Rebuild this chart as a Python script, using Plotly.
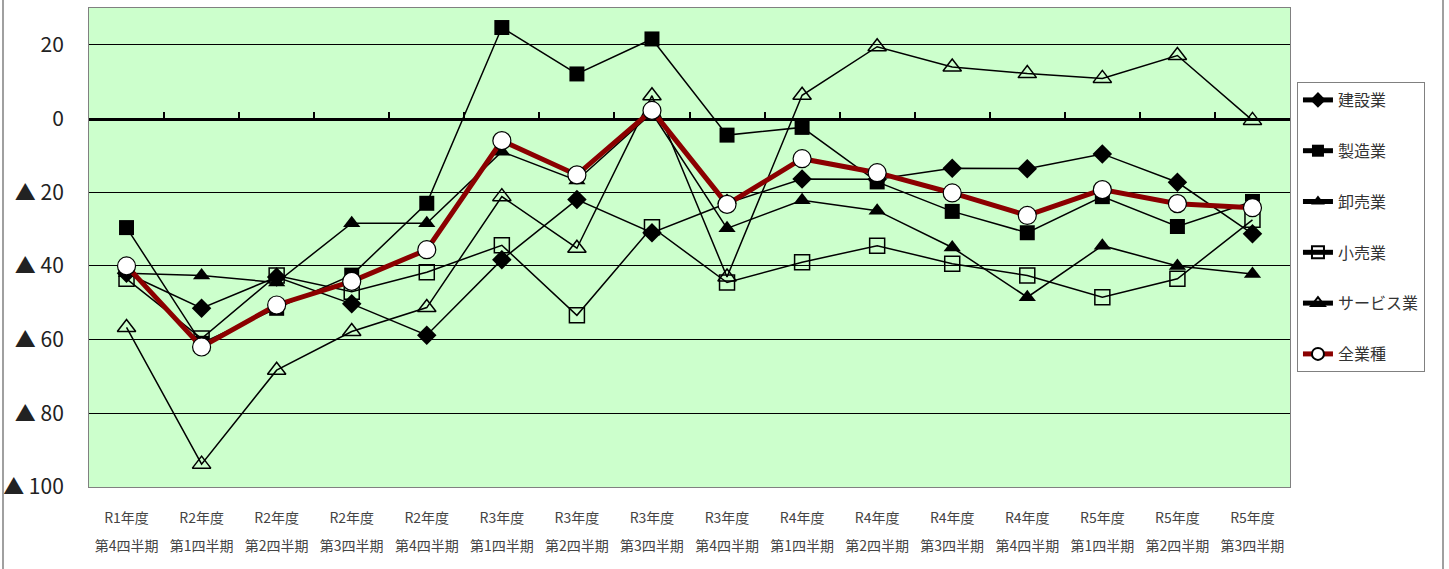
import plotly.graph_objects as go

years = ["R1年度", "R2年度", "R2年度", "R2年度", "R2年度", "R3年度", "R3年度", "R3年度",
         "R3年度", "R4年度", "R4年度", "R4年度", "R4年度", "R5年度", "R5年度", "R5年度"]
quarters = ["第4四半期", "第1四半期", "第2四半期", "第3四半期", "第4四半期", "第1四半期", "第2四半期", "第3四半期",
            "第4四半期", "第1四半期", "第2四半期", "第3四半期", "第4四半期", "第1四半期", "第2四半期", "第3四半期"]

kensetsu = [-42, -51.5, -43, -50.3, -58.8, -38.3, -22, -31, -23, -16.4, -16.5, -13.5, -13.6, -9.6, -17.3, -31.3]
seizou = [-29.6, -61, -51.5, -42.5, -23, 24.7, 12.1, 21.6, -4.5, -2.4, -17.2, -25.2, -31, -21.2, -29.3, -22.5]
oroshi = [-42, -42.6, -44.5, -28.4, -28.4, -9, -16.8, 1.5, -29.8, -22.2, -25, -35, -48.5, -34.5, -40, -42.2]
kouri = [-43.5, -59.7, -42.6, -47, -41.7, -34.4, -53.4, -29.5, -44.5, -39, -34.5, -39.4, -42.6, -48.5, -43.5, -27.5]
service = [-56.7, -93.8, -68.3, -57.8, -51.3, -21.2, -35.2, 6.2, -43, 6.3, 19.5, 14, 12.2, 10.9, 17.1, -0.5]
zengyoushu = [-40, -62, -50.6, -44.2, -35.6, -6, -15.3, 2.2, -23.3, -10.9, -14.7, -20.2, -26.3, -19.3, -23.1, -24.2]

ytick_vals = [20, 0, -20, -40, -60, -80, -100]
ytick_text = ["20", "0", "▲ 20", "▲ 40", "▲ 60", "▲ 80", "▲ 100"]

x = list(range(len(years)))
FONT = "Noto Sans CJK JP, DejaVu Sans, sans-serif"

series = [
    ("建設業", kensetsu, dict(symbol="diamond", size=15, color="black")),
    ("製造業", seizou, dict(symbol="square", size=15, color="black")),
    ("卸売業", oroshi, dict(symbol="triangle-up", size=15, color="black")),
    ("小売業", kouri, dict(symbol="square-open", size=15, color="black", line=dict(width=1.5))),
    ("サービス業", service, dict(symbol="triangle-up-open", size=16, color="black", line=dict(width=1.5))),
]

fig = go.Figure()
for i, (name, vals, mk) in enumerate(series):
    fig.add_trace(go.Scatter(
        x=x, y=vals, name=name, mode="lines+markers",
        line=dict(color="black", width=1.5), marker=mk,
        legendgroup=f"g{i}",
    ))
fig.add_trace(go.Scatter(
    x=x, y=zengyoushu, name="全業種", mode="lines+markers",
    line=dict(color="#8B0000", width=5),
    marker=dict(symbol="circle", size=18, color="white", line=dict(color="black", width=1.2)),
    legendgroup="g5",
))
# helper traces so overlaid axes are drawn
fig.add_trace(go.Scatter(x=x, y=[None] * len(x), xaxis="x2", showlegend=False, hoverinfo="skip"))
fig.add_trace(go.Scatter(x=x, y=[None] * len(x), xaxis="x3", showlegend=False, hoverinfo="skip"))

xr = [-0.5, len(x) - 0.5]
ymin, ymax = -100, 30

fig.update_layout(
    width=1449, height=569,
    margin=dict(l=89, r=159, t=8, b=82, autoexpand=False),
    paper_bgcolor="white",
    plot_bgcolor="#CCFFCC",
    font=dict(family=FONT, color="#333333"),
    showlegend=True,
    legend=dict(
        x=1.0058, y=0.8455, xanchor="left", yanchor="top",
        bgcolor="white", bordercolor="#808080", borderwidth=1,
        font=dict(family=FONT, size=16, color="#333333"),
        traceorder="grouped", tracegroupgap=27, itemsizing="constant",
    ),
    xaxis=dict(
        range=xr, tickmode="array", tickvals=x, ticktext=years, automargin=False,
        showgrid=False, zeroline=False, showline=True, mirror=True,
        linecolor="#808080", linewidth=1, ticks="",
        tickfont=dict(family=FONT, size=14, color="#444444"),
        ticklabelstandoff=18,
    ),
    xaxis2=dict(
        range=xr, overlaying="x", anchor="free", position=(0 - ymin) / (ymax - ymin),
        tickmode="array", tickvals=[v - 0.5 for v in range(len(x) + 1)], automargin=False,
        ticks="inside", ticklen=6, tickwidth=2, tickcolor="black",
        showticklabels=False, showgrid=False, zeroline=False,
        showline=True, linecolor="black", linewidth=3, layer="below traces",
    ),
    xaxis3=dict(
        range=xr, overlaying="x", anchor="y", side="bottom", automargin=False,
        tickmode="array", tickvals=x, ticktext=quarters,
        showgrid=False, zeroline=False, showline=False, ticks="",
        tickfont=dict(family=FONT, size=14, color="#444444"),
        ticklabelstandoff=49,
    ),
    yaxis=dict(
        range=[ymin, ymax], tickmode="array", tickvals=ytick_vals, ticktext=ytick_text,
        automargin=False,
        showgrid=True, gridcolor="black", gridwidth=1, zeroline=False,
        showline=True, mirror=True, linecolor="#808080", linewidth=1, ticks="",
        tickfont=dict(family=FONT, size=21, color="#222222"),
        ticklabelstandoff=20,
    ),
    shapes=[
        dict(type="line", xref="paper", yref="paper", x0=-0.0716, x1=-0.0716, y0=-0.2, y1=1.05,
             line=dict(color="#A0A0A0", width=2)),
        dict(type="line", xref="paper", yref="paper", x0=1.1274, x1=1.1274, y0=-0.2, y1=1.05,
             line=dict(color="#A0A0A0", width=2)),
    ],
)

fig.write_html("out.html")
